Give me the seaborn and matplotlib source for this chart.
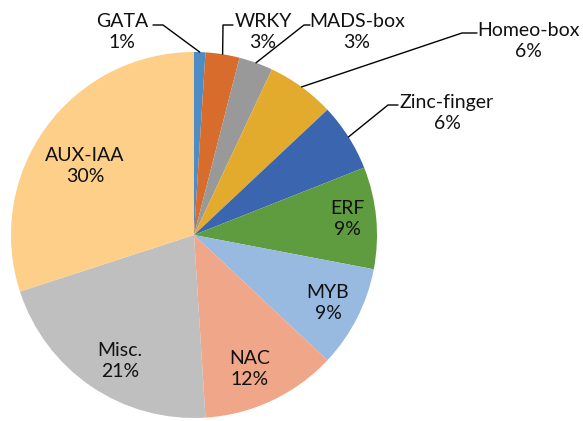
import numpy as np
import matplotlib
matplotlib.use("Agg")
import matplotlib.pyplot as plt
import seaborn as sns

# data (percent of genes per family)
families = ["GATA", "WRKY", "MADS-box", "Homeo-box", "Zinc-finger",
            "ERF", "MYB", "NAC", "Misc.", "AUX-IAA"]
percents = [1, 3, 3, 6, 6, 9, 9, 12, 21, 30]

colores = ["#4E8CC6", "#D86C2C", "#999999", "#E2AB2E", "#3B66AF",
           "#5F9C40", "#98B9E0", "#F0A689", "#BFBFBF", "#FDCF88"]

sns.set_theme(style="white")
plt.rcParams['font.family'] = ['Lato', 'DejaVu Sans']

W, H = 583, 421
cx, cy, R = 194, 235, 183   # pie centre / radius in pixels

def px(x, y):
    # pixel position -> data units (radius 1 = R px)
    return (x - cx) / R, (cy - y) / R

fig = plt.figure(figsize=(W / 100, H / 100), dpi=100)
ax = fig.add_axes([0, 0, 1, 1])

wedges, _ = ax.pie(percents, colors=colores, startangle=90, counterclock=False,
                   radius=1, wedgeprops=dict(linewidth=0))
ax.set_xlim(-cx / R, (W - cx) / R)
ax.set_ylim(-(H - cy) / R, cy / R)
ax.set_aspect('auto')
ax.axis('off')

# label centres (pixels) and, for outside labels, where the leader starts
etiquetas = {
    "GATA": ((122, 32), [(153, 25), (163, 25)]),
    "WRKY": ((263, 32), [(233, 25), (223, 25)]),
    "MADS-box": ((357, 32), [(310, 25), (304, 25)]),
    "Homeo-box": ((528, 41), [(477, 33), (462, 33)]),
    "Zinc-finger": ((447, 113), [(398, 105), (388, 105)]),
    "ERF": ((347, 219), None),
    "MYB": ((328, 303), None),
    "NAC": ((250, 369), None),
    "Misc.": ((120, 361), None),
    "AUX-IAA": ((85, 166), None),
}

for w, fam, p in zip(wedges, families, percents):
    (lx, ly), leader = etiquetas[fam]
    x, y = px(lx, ly)
    ax.text(x, y, f"{fam}\n{p}%", ha='center', va='center', fontsize=14,
            linespacing=1.35, color='#111111')
    if leader:
        ang = np.deg2rad((w.theta1 + w.theta2) / 2)
        ex, ey = np.cos(ang), np.sin(ang)
        pts = [px(*q) for q in leader] + [(ex, ey)]
        xs, ys = zip(*pts)
        ax.plot(xs, ys, color='black', lw=1)

plt.savefig("out.png", dpi=100)
